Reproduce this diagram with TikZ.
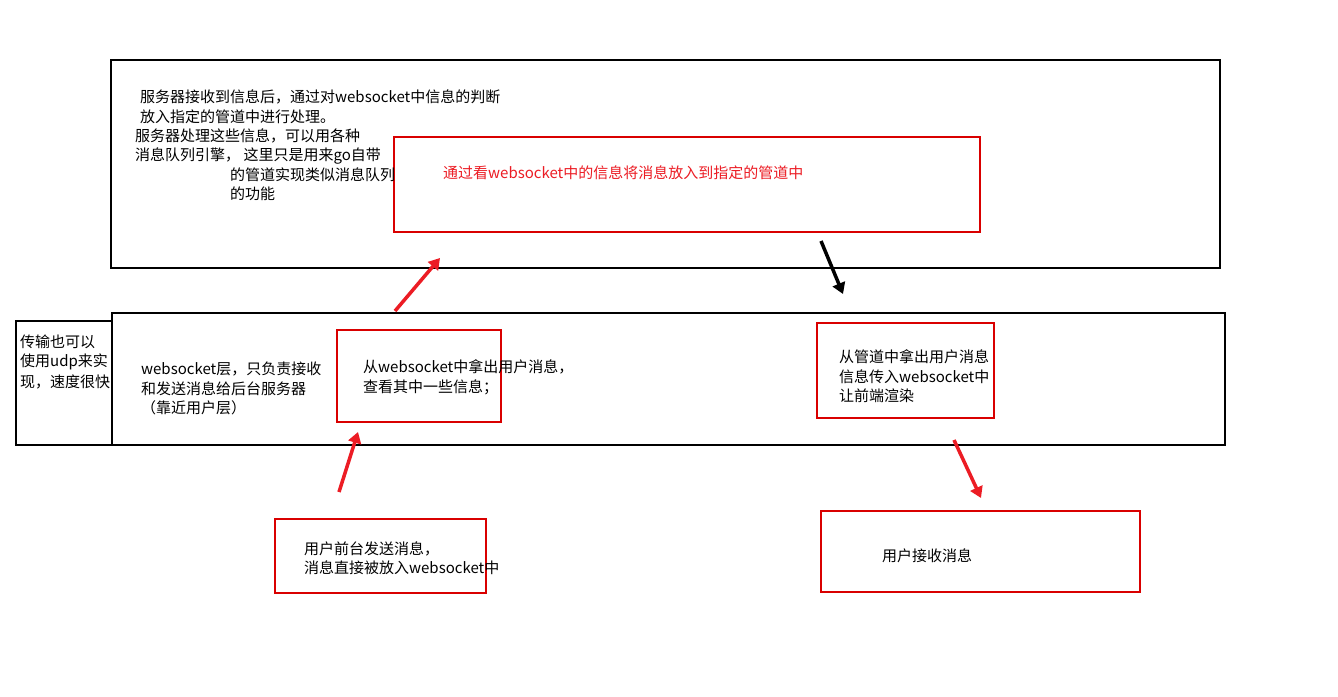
\documentclass[tikz,border=0pt]{standalone}
\usepackage{fontspec}
\setmainfont{Noto Sans CJK SC}
\usetikzlibrary{arrows.meta}
\begin{document}
\begin{tikzpicture}[x=1pt,y=-1pt,
  bbox/.style={draw=black,line width=1.3pt},
  rbox/.style={draw=red!85!black,line width=1.2pt},
  txt/.style={anchor=west,inner sep=0pt,font=\fontsize{15}{17}\selectfont},
  arr/.style={line width=3.5pt,-{Triangle[length=11pt,width=13pt]}},
  redarr/.style={arr,draw={rgb,255:red,236;green,28;blue,36},color={rgb,255:red,236;green,28;blue,36}}]
\useasboundingbox (0,0) rectangle (1338,696);
\fill[white] (0,0) rectangle (1338,696);
\draw[bbox] (111,60) rectangle (1220,268);
\draw[bbox] (112,313) rectangle (1225,445);
\draw[bbox] (16,321) rectangle (112,445);
\draw[rbox] (394,137) rectangle (980,232);
\draw[rbox] (337,330) rectangle (501,422);
\draw[rbox] (817,323) rectangle (994,418);
\draw[rbox] (275,519) rectangle (486,593);
\draw[rbox] (821,511) rectangle (1140,592);
\node[txt] (t1) at (140,97) {服务器接收到信息后，通过对websocket中信息的判断};
\node[txt] (t2) at (140,117) {放入指定的管道中进行处理。};
\node[txt] (t3) at (135,136) {服务器处理这些信息，可以用各种};
\node[txt] (t4) at (135,156) {消息队列引擎， 这里只是用来go自带};
\node[txt] (t5) at (230,175) {的管道实现类似消息队列};
\node[txt] (t6) at (230,194) {的功能};
\node[txt,text={rgb,255:red,236;green,28;blue,36}] (r1) at (443,173) {通过看websocket中的信息将消息放入到指定的管道中};
\node[txt] (l1) at (20,342) {传输也可以};
\node[txt] (l2) at (20,362) {使用udp来实};
\node[txt] (l3) at (20,382) {现，速度很快};
\node[txt] (w1) at (141,369) {websocket层，只负责接收};
\node[txt] (w2) at (141,389) {和发送消息给后台服务器};
\node[txt] (w3) at (141,408) {（靠近用户层）};
\node[txt] (m1) at (363,367) {从websocket中拿出用户消息，};
\node[txt] (m2) at (363,387) {查看其中一些信息；};
\node[txt] (n1) at (839,357) {从管道中拿出用户消息};
\node[txt] (n2) at (839,377) {信息传入websocket中};
\node[txt] (n3) at (839,396) {让前端渲染};
\node[txt] (b1) at (304,549) {用户前台发送消息，};
\node[txt] (b2) at (304,568) {消息直接被放入websocket中};
\node[txt] (c1) at (882,556) {用户接收消息};
\coordinate (a1s) at (395,311); \coordinate (a1e) at (440,258);
\coordinate (a2s) at (821,241); \coordinate (a2e) at (843,294);
\coordinate (a3s) at (339,492); \coordinate (a3e) at (358,432);
\coordinate (a4s) at (954,440); \coordinate (a4e) at (981,498);
\draw[redarr] (a1s) -- (a1e);
\draw[arr] (a2s) -- (a2e);
\draw[redarr] (a3s) -- (a3e);
\draw[redarr] (a4s) -- (a4e);
\end{tikzpicture}
\end{document}
